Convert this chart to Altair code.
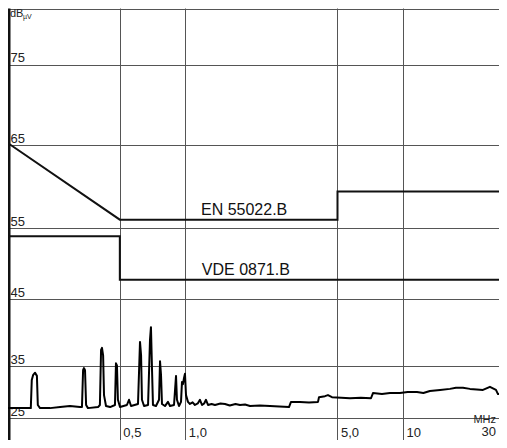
import altair as alt
import pandas as pd

# ---- data ----
spec_mhz = [0.150, 0.174, 0.195, 0.197, 0.200, 0.204, 0.208, 0.210, 0.215, 0.239,
            0.266, 0.295, 0.328, 0.335, 0.339, 0.342, 0.346, 0.350, 0.357, 0.397,
            0.405, 0.410, 0.414, 0.419, 0.423, 0.432, 0.451, 0.475, 0.480, 0.485,
            0.490, 0.501, 0.539, 0.551, 0.563, 0.606, 0.619, 0.626, 0.632, 0.646,
            0.674, 0.688, 0.695, 0.703, 0.710, 0.733, 0.757, 0.765, 0.773, 0.781,
            0.806, 0.832, 0.850, 0.887, 0.906, 0.915, 0.935, 0.955, 0.965, 0.975,
            0.986, 0.996, 1.007, 1.028, 1.050, 1.080, 1.107, 1.140, 1.167, 1.193,
            1.220, 1.244, 1.271, 1.320, 1.368, 1.450, 1.521, 1.600, 1.700, 1.782,
            1.880, 1.981, 2.200, 2.448, 2.700, 2.993, 3.057, 3.362, 3.700, 4.068,
            4.111, 4.380, 4.521, 4.716, 5.200, 5.706, 6.400, 7.125, 7.278, 8.000,
            8.709, 9.680, 10.50, 11.59, 12.40, 13.29, 14.80, 16.43, 17.50, 18.85,
            20.30, 21.80, 23.29, 25.08, 26.73, 27.30, 30.0]
spec_db = [26.9, 26.9, 26.9, 32.3, 33.3, 33.7, 33.1, 27.5, 26.9, 26.9,
           27.1, 27.3, 27.1, 27.1, 34.2, 34.6, 34.2, 27.5, 26.9, 27.1,
           27.5, 37.4, 37.7, 36.6, 29.4, 27.3, 27.1, 27.5, 35.4, 35.1,
           28.5, 27.1, 27.5, 28.5, 27.3, 27.7, 38.6, 36.6, 28.5, 27.3,
           27.5, 38.9, 40.8, 34.2, 27.5, 27.3, 28.5, 35.7, 33.3, 27.7,
           27.3, 28.1, 27.3, 27.5, 33.1, 28.5, 27.3, 28.1, 31.9, 31.5,
           32.7, 33.5, 29.4, 28.1, 27.7, 28.0, 27.5, 27.8, 28.5, 27.5,
           27.8, 28.5, 27.5, 27.7, 27.5, 27.8, 27.7, 27.4, 27.7, 27.5,
           27.6, 27.3, 27.4, 27.3, 27.2, 27.1, 28.1, 28.1, 28.0, 28.1,
           29.0, 29.2, 29.4, 29.0, 28.9, 28.8, 28.9, 28.8, 29.8, 29.6,
           29.8, 29.8, 30.0, 30.0, 29.8, 30.2, 30.4, 30.6, 30.8, 30.8,
           30.6, 30.5, 30.4, 31.0, 30.4, 29.6, 29.8]

en_mhz = [0.15, 0.5, 5.0, 5.0, 30.0]
en_db = [65.4, 56.0, 56.0, 59.4, 59.4]
vde_mhz = [0.15, 0.5, 0.5, 30.0]
vde_db = [53.85, 53.85, 47.7, 47.7]

limit_names = ["EN 55022.B", "VDE 0871.B"]
limit_label_mhz = [1.18, 1.19]
limit_label_db = [56.6, 48.45]

y_grid = [25, 35, 45, 55, 65, 75]
x_ticks = [0.5, 1, 5, 10]
x_tick_labels = ["0,5", "1,0", "5,0", "10"]

# ---- tables ----
spec = pd.DataFrame({"freq": spec_mhz, "dB": spec_db, "i": range(len(spec_mhz))})
limits = pd.DataFrame({
    "freq": en_mhz + vde_mhz,
    "dB": en_db + vde_db,
    "series": ["EN"] * len(en_mhz) + ["VDE"] * len(vde_mhz),
    "i": list(range(len(en_mhz))) + list(range(len(vde_mhz))),
})
labels = pd.DataFrame({"freq": limit_label_mhz, "dB": limit_label_db, "txt": limit_names})

W, H = 491, 432
FONT = "Liberation Sans"
GRID = "#555555"

x_expr = " : ".join(
    f"datum.value == {v} ? '{l}'" for v, l in zip(x_ticks[:-1], x_tick_labels[:-1])
) + f" : '{x_tick_labels[-1]}'"

x_scale = alt.Scale(type="log", domain=[0.1532, 27.6], nice=False)
y_scale = alt.Scale(domain=[20.77, 25, 35, 45, 55, 65, 75, 82.0],
                    range=[432, 410, 358, 291, 220, 137, 56.5, 0],
                    zero=False, nice=False)

x_axis = alt.Axis(values=x_ticks, grid=True, gridColor=GRID, gridWidth=1,
                  domain=False, ticks=False, tickSize=0,
                  labelAlign="left", labelBaseline="alphabetic", labelPadding=-4,
                  labelOffset=3, labelFontSize=13, labelFont=FONT, labelColor="#222222",
                  labelExpr=x_expr, labelFlush=False, labelOverlap=False, title=None)
y_axis = alt.Axis(values=y_grid + [81.9], grid=True, gridColor=GRID, gridWidth=1,
                  domain=True, domainColor="#111111", domainWidth=4,
                  ticks=False, tickSize=0,
                  labelAlign="left", labelBaseline="bottom", labelPadding=-2,
                  labelFontSize=13, labelFont=FONT, labelColor="#222222",
                  labelExpr="datum.value > 80 ? '' : datum.label",
                  labelFlush=False, labelOverlap=False, title=None)

X = alt.X("freq:Q", scale=x_scale, axis=x_axis)
Y = alt.Y("dB:Q", scale=y_scale, axis=y_axis)

spectrum = alt.Chart(spec).mark_line(
    color="black", strokeWidth=2, strokeJoin="round", clip=True
).encode(x=X, y=Y, order="i:Q")

limit_lines = alt.Chart(limits).mark_line(
    color="#111111", strokeWidth=2, clip=True
).encode(x=X, y=Y, detail="series:N", order="i:Q")

limit_text = alt.Chart(labels).mark_text(
    align="left", baseline="alphabetic", fontSize=16, font=FONT, color="#111111"
).encode(x=X, y=Y, text="txt:N")

ann = pd.DataFrame({"t": [0]})
unit_db = alt.Chart(ann).mark_text(align="left", baseline="alphabetic", fontSize=11,
                                   font=FONT, color="#222222", text="dB").encode(
    x=alt.value(2), y=alt.value(9))
unit_uv = alt.Chart(ann).mark_text(align="left", baseline="alphabetic", fontSize=7,
                                   font=FONT, color="#222222", text="µV").encode(
    x=alt.value(15), y=alt.value(10.5))
unit_mhz = alt.Chart(ann).mark_text(align="right", baseline="alphabetic", fontSize=11,
                                    font=FONT, color="#222222", text="MHz").encode(
    x=alt.value(488), y=alt.value(415))
lab30 = alt.Chart(ann).mark_text(align="right", baseline="alphabetic", fontSize=13,
                                 font=FONT, color="#222222", text="30").encode(
    x=alt.value(488), y=alt.value(428))

chart = alt.layer(spectrum, limit_lines, limit_text, unit_db, unit_uv, unit_mhz, lab30).properties(
    width=W, height=H, autosize=alt.AutoSizeParams(type="none"), padding=0,
    background="white"
).configure_view(stroke=None)

chart.save("out.html", embed_options={"renderer": "svg", "actions": False})
